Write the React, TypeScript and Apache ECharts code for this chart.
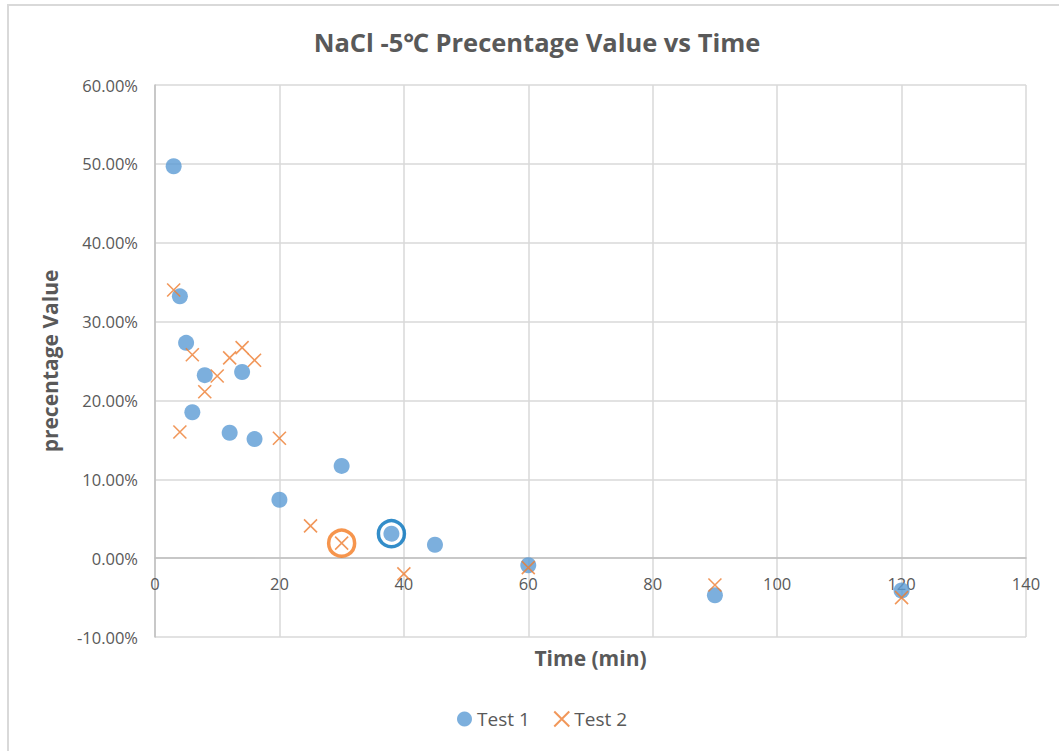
import React, { useEffect, useRef } from "react";
import * as echarts from "echarts";

// Elapsed time (min) and measured percentage value (%) for each test run
const test1Time = [3, 4, 5, 6, 8, 12, 14, 16, 20, 30, 38, 45, 60, 90, 120];
const test1Pct = [49.7, 33.2, 27.3, 18.5, 23.2, 15.9, 23.6, 15.1, 7.4, 11.7, 3.1, 1.7, -0.9, -4.7, -4.1];
const test2Time = [3, 4, 6, 8, 10, 12, 14, 16, 20, 25, 30, 40, 60, 90, 120];
const test2Pct = [34.0, 16.0, 25.8, 21.1, 23.1, 25.4, 26.7, 25.1, 15.2, 4.1, 1.9, -2.0, -1.2, -3.4, -5.0];

// Index of the point circled in each run
const test1Circled = 10;
const test2Circled = 10;

const seriesNames = ["Test 1", "Test 2"];
const titleText = "NaCl -5\u2103 Precentage Value vs Time";
const xTitle = "Time (min)";
const yTitle = "precentage Value";

const FONT = "'Open Sans', 'Noto Sans', sans-serif";
const TEXT = "#595959";
const BLUE = "#5B9BD5";
const ORANGE = "#ED7D31";
const CROSS = "path://M0,0L10,10M10,0L0,10";

const pairs = (xs: number[], ys: number[]) => xs.map((x, i) => [x, ys[i]]);

export default function App() {
  const ref = useRef<HTMLDivElement>(null);

  useEffect(() => {
    if (!ref.current) return;
    const chart = echarts.init(ref.current, undefined, { renderer: "svg" });
    const d1 = pairs(test1Time, test1Pct);
    const d2 = pairs(test2Time, test2Pct);

    chart.setOption({
      animation: false,
      backgroundColor: "#ffffff",
      textStyle: { fontFamily: FONT },
      graphic: [
        {
          type: "rect",
          shape: { x: 8, y: 5, width: 1070, height: 770 },
          style: { fill: "none", stroke: "#d9d9d9", lineWidth: 2 },
          silent: true,
        },
        {
          type: "text",
          x: 537,
          y: 42,
          style: {
            text: titleText,
            font: `700 25.5px ${FONT}`,
            fill: TEXT,
            align: "center",
            verticalAlign: "middle",
          },
        },
      ],
      grid: { left: 155, top: 85, width: 871, height: 552 },
      legend: {
        data: seriesNames,
        bottom: 17,
        left: 452,
        itemWidth: 15,
        itemHeight: 15,
        itemGap: 22,
        textStyle: { fontSize: 19, color: TEXT, fontFamily: FONT },
      },
      xAxis: {
        type: "value",
        min: 0,
        max: 140,
        interval: 20,
        name: xTitle,
        nameLocation: "middle",
        nameGap: 10,
        nameTextStyle: { fontSize: 21, fontWeight: 700, color: TEXT, fontFamily: FONT },
        axisLine: { onZero: true, lineStyle: { color: "#bfbfbf", width: 1.5 } },
        axisTick: { show: false },
        axisLabel: { fontSize: 16.5, color: TEXT, margin: -62 },
        splitLine: { lineStyle: { color: "#d9d9d9", width: 1.5 } },
      },
      yAxis: {
        type: "value",
        min: -10,
        max: 60,
        interval: 10,
        name: yTitle,
        nameLocation: "middle",
        nameGap: 95,
        nameTextStyle: { fontSize: 21, fontWeight: 700, color: TEXT, fontFamily: FONT },
        axisLine: { show: true, lineStyle: { color: "#bfbfbf", width: 1.5 } },
        axisTick: { show: false },
        axisLabel: {
          fontSize: 16.5,
          color: TEXT,
          margin: 17,
          formatter: (v: number) => v.toFixed(2) + "%",
        },
        splitLine: { lineStyle: { color: "#d9d9d9", width: 1.5 } },
      },
      series: [
        {
          name: "Test 1",
          type: "scatter",
          symbol: "circle",
          symbolSize: 16,
          itemStyle: { color: BLUE },
          data: d1,
          z: 3,
        },
        {
          name: "Test 2",
          type: "scatter",
          symbol: CROSS,
          symbolSize: 13,
          itemStyle: { color: "none", borderColor: ORANGE, borderWidth: 1.6 },
          data: d2,
          z: 4,
        },
        {
          name: "circled-1",
          type: "scatter",
          symbol: "circle",
          symbolSize: 26,
          silent: true,
          itemStyle: { color: "none", borderColor: "#0071BC", borderWidth: 3.5 },
          data: [d1[test1Circled]],
          z: 5,
        },
        {
          name: "circled-2",
          type: "scatter",
          symbol: "circle",
          symbolSize: 26,
          silent: true,
          itemStyle: { color: "none", borderColor: "#F47B20", borderWidth: 3.5 },
          data: [d2[test2Circled]],
          z: 5,
        },
      ],
    });

    return () => chart.dispose();
  }, []);

  return (
    <div
      ref={ref}
      style={{ position: "fixed", left: 0, top: 0, width: 1059, height: 751 }}
    />
  );
}
